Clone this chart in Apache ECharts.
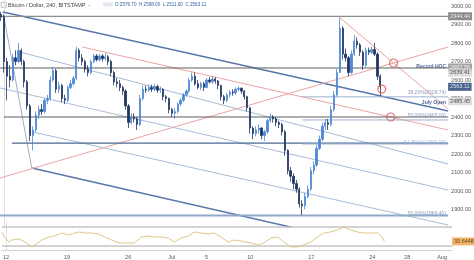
<!DOCTYPE html>
<html><head><meta charset="utf-8">
<script src="https://cdn.jsdelivr.net/npm/echarts@6/dist/echarts.min.js"></script>
<style>html,body{margin:0;padding:0;background:#fff}#c{width:474px;height:260px}</style>
</head><body><div id="c"></div>
<script>
// ---- data (days counted from 12 Jun) ----
const candleStartDay = -1/3, candleStepDay = 1/3; // 8h candles
const candleOpen = [2955,2940,2700,2620,2600,2720,2700,2760,2700,2590,2460,2300,2330,2410,2440,2430,2490,2500,2600,2650,2550,2570,2500,2490,2560,2580,2610,2760,2720,2700,2660,2640,2700,2730,2710,2730,2715,2725,2700,2640,2590,2580,2560,2540,2460,2370,2400,2390,2360,2500,2550,2545,2560,2550,2565,2545,2550,2510,2500,2440,2420,2430,2470,2490,2520,2540,2600,2620,2580,2560,2580,2560,2600,2590,2605,2595,2570,2510,2490,2520,2535,2530,2550,2555,2540,2510,2450,2340,2310,2330,2340,2300,2320,2380,2400,2390,2370,2360,2320,2220,2110,2080,2040,2010,1930,1920,1970,2010,2110,2140,2230,2280,2350,2370,2360,2440,2520,2640,2880,2740,2720,2640,2740,2810,2790,2750,2680,2760,2750,2765,2740,2620];
const candleClose = [2940,2700,2620,2600,2720,2700,2760,2700,2590,2460,2300,2330,2410,2440,2430,2490,2500,2600,2650,2550,2570,2500,2490,2560,2580,2610,2760,2720,2700,2660,2640,2700,2730,2710,2730,2715,2725,2700,2640,2590,2580,2560,2540,2460,2370,2400,2390,2360,2500,2550,2545,2560,2550,2565,2545,2550,2510,2500,2440,2420,2430,2470,2490,2520,2540,2600,2620,2580,2560,2580,2560,2600,2590,2605,2595,2570,2510,2490,2520,2535,2530,2550,2555,2540,2510,2450,2340,2310,2330,2340,2300,2320,2380,2400,2390,2370,2360,2320,2220,2110,2080,2040,2010,1930,1920,1970,2010,2110,2140,2230,2280,2350,2370,2360,2440,2520,2640,2880,2740,2720,2640,2740,2810,2790,2750,2680,2760,2750,2765,2740,2620,2563.11];
const candleLow = [2920,2640,2490,2560,2590,2680,2690,2680,2560,2440,2270,2220,2320,2390,2410,2420,2470,2490,2590,2530,2530,2480,2470,2480,2550,2570,2600,2700,2680,2640,2620,2630,2690,2700,2700,2700,2705,2680,2620,2570,2560,2540,2520,2440,2340,2360,2370,2330,2350,2490,2530,2535,2535,2540,2530,2530,2490,2480,2420,2400,2390,2420,2460,2480,2510,2530,2590,2570,2550,2545,2540,2555,2580,2580,2580,2550,2490,2470,2480,2505,2515,2520,2540,2525,2495,2430,2310,2280,2295,2310,2280,2270,2310,2370,2370,2350,2340,2300,2190,2090,2050,2010,1990,1910,1870,1900,1960,2000,2090,2130,2220,2270,2330,2330,2350,2430,2510,2640,2710,2700,2620,2630,2730,2770,2730,2655,2670,2735,2740,2730,2600,2511];
const candleHigh = [2968,2950,2720,2680,2740,2760,2800,2770,2710,2600,2470,2350,2430,2460,2470,2500,2520,2620,2670,2660,2590,2580,2520,2570,2600,2620,2780,2770,2740,2710,2680,2710,2740,2740,2740,2740,2745,2735,2710,2650,2610,2600,2570,2550,2470,2420,2420,2400,2520,2570,2570,2575,2575,2580,2575,2565,2555,2520,2505,2450,2450,2480,2500,2530,2550,2610,2640,2640,2600,2590,2590,2610,2615,2620,2615,2600,2575,2520,2530,2545,2550,2560,2565,2560,2545,2515,2455,2350,2350,2360,2345,2330,2390,2420,2410,2400,2380,2370,2330,2225,2130,2095,2060,2020,1950,1990,2030,2130,2160,2250,2300,2370,2390,2390,2460,2540,2660,2935,2890,2770,2730,2760,2843,2830,2800,2760,2775,2775,2780,2800,2750,2630];

const rsiDay = [-0.46,-0.11,0.34,0.68,1.48,2.17,2.97,3.31,4.11,4.91,5.59,6.39,7.19,7.88,8.45,9.02,9.82,10.62,11.30,12.10,12.67,13.24,14.04,14.73,15.53,16.32,17.01,17.81,18.61,19.29,20.09,20.89,21.58,22.37,23.17,23.86,24.66,25.46,26.14,26.94,28.08,28.88,29.57,30.37,31.16,31.85,32.65,33.45,34.13,34.93,35.73,36.42,37.21,38.01,38.70,39.50,40.30,40.98,41.78,42.58,43.15,43.38];
const rsiValue = [59.5,46.8,38.4,42.6,44.7,38.4,27.9,32.1,42.6,48.9,51.1,57.4,53.2,57.4,59.5,57.4,57.4,55.3,48.9,42.6,38.4,36.3,36.3,36.3,48.9,51.1,48.9,48.9,46.8,38.4,46.8,51.1,59.5,57.4,55.3,57.4,48.9,38.4,42.6,40.5,36.3,32.1,36.3,46.8,48.9,38.4,27.9,27.9,32.1,38.4,48.9,57.4,59.5,63.7,70.0,63.7,59.5,57.4,57.4,57.4,48.9,39.6448];
const rsiBands = [70, 30];

const tickDays = [0,7,14,19,23,28,35,42,46,50];
const tickLabels = ['12','19','26','Jul','5','10','17','24','28','Aug'];
const priceTicks = [1900,2000,2100,2200,2300,2400,2500,2600,2700,2800,2900,3000];

// trendlines: [startDay, startPrice, endDay, endPrice]
const channelLines = [[-0.11,2967.6,51.14,2432.4],[3.2,2124.3,51.14,1610.8]];
const handleLine = [-0.11,2967.6,3.2,2124.3];
const medianLines = [[1.83,2751.3,51.14,2146],[-0.46,2557,51.14,2005],[3.31,2318.9,51.14,1816]];
const pinkLines = [[9.02,2778.4,51.14,2329.7],[-0.46,2070.3,51.14,2778.4],[38.58,2940.5,51.14,2443.2]];
// horizontal levels: [fromDay, price]
const levelGray = [[-0.46,2944.44],[-0.46,2665],[0.0,2400]];
const levelBlue = [[0.91,2259]];
const levelLow = [[-0.46,1868]];
const fibShort = [[34.36,2509],[34.36,2384],[34.36,2254]];
const circleDay = [44.86,43.49,44.52];
const circlePrice = [2692,2551,2400];
const levelText = ['Record HOC','July Open','38.20%(2528.74)','50.00%(2405.00)','61.80%(2253.76)','50.00%(1869.40)'];
const levelTextPrice = [2672,2479,2534,2410,2262,1878];
const axisBoxValue = [2944.44,2667.56,2639.41,2563.11,2485.45];
const axisBoxBg = ['#6f6f6f','#8d8d8d','#d6d6d6','#1f3c73','#d6d6d6'];
const axisBoxFg = ['#fff','#fff','#333','#fff','#333'];
const rsiLast = 39.6448;

// ---- chart ----
const X0 = -0.457, X1 = 51.14;
const series = [];
function seg(a, color, width, xi){
  series.push({type:'line', xAxisIndex:xi||0, yAxisIndex:xi||0, data:[[a[0],a[1]],[a[2],a[3]]], symbol:'none', silent:true,
    clip:true, lineStyle:{color:color, width:width}, z:2, animation:false});
}
channelLines.forEach(l=>seg(l,'#5877ab',1.5));
seg(handleLine,'#8b98b0',0.8);
medianLines.forEach(l=>seg(l,'#a7bad6',1));
pinkLines.forEach(l=>seg(l,'#eba3a3',1));
levelGray.forEach((l,i)=>seg([l[0],l[1],X1,l[1]], i===0?'#8c8c8c':'#5f5f5f', i===0?1.2:1));
levelBlue.forEach(l=>seg([l[0],l[1],X1,l[1]],'#4a6894',1.3));
levelLow.forEach(l=>seg([l[0],l[1],X1,l[1]],'#8fa7c8',2));
fibShort.forEach(l=>seg([l[0],l[1],X1,l[1]],'#9fb1cf',1));

series.push({type:'candlestick', data:candleOpen.map((o,i)=>[candleStartDay+i*candleStepDay,o,candleClose[i],candleLow[i],candleHigh[i]]),
  barWidth:1.8, z:5, animation:false,
  itemStyle:{color:'#4d88d6', color0:'#22365f', borderColor:'#4d88d6', borderColor0:'#22365f', borderWidth:0.8}});

series.push({type:'scatter', data:circleDay.map((d,i)=>[d,circlePrice[i]]), symbol:'circle', symbolSize:8, z:6, silent:true,
  itemStyle:{color:'rgba(255,255,255,0)', borderColor:'#d9534f', borderWidth:1.2}, animation:false});

series.push({type:'scatter', data:levelTextPrice.map((p,i)=>({value:[50.9,p], name:levelText[i]})), symbolSize:0, z:7, silent:true, animation:false,
  label:{show:true, position:'left', distance:0, fontSize:5, fontFamily:'Liberation Sans, Arial',
    formatter:p=>p.name, color:'#6f84a8',
    rich:{}},
  labelLayout:null});
// colour specific labels
series[series.length-1].data.forEach((d,i)=>{
  if(i<2) d.label={color:'#1f3d7a', fontWeight:'bold'};
  if(i===4) d.label={color:'#8fb1da', fontSize:5.5};
});

series.push({type:'scatter', data:axisBoxValue.map((v,i)=>({value:[X1,v], label:{backgroundColor:axisBoxBg[i], color:axisBoxFg[i]}})), symbolSize:0, z:8, silent:true, animation:false,
  label:{show:true, position:'right', distance:0, fontSize:5.5, fontFamily:'Liberation Sans, Arial', padding:[1,2,1,2], formatter:p=>p.value[1].toFixed(2)}});

// RSI panel
seg([X0,rsiBands[0],X1,rsiBands[0]],'#a8a8a8',1,1);
seg([X0,rsiBands[1],X1,rsiBands[1]],'#a8a8a8',1,1);
series.push({type:'line', xAxisIndex:1, yAxisIndex:1, data:rsiDay.map((d,i)=>[d,rsiValue[i]]), symbol:'none', silent:true, animation:false,
  lineStyle:{color:'#dcbf7c', width:0.9}});
series.push({type:'scatter', xAxisIndex:1, yAxisIndex:1, data:[[X1,rsiLast]], symbolSize:0, silent:true, animation:false,
  label:{show:true, position:'right', distance:0, fontSize:5.5, fontFamily:'Liberation Sans, Arial', padding:[1,2,1,2], backgroundColor:'#f0a346', color:'#3a2a10', formatter:p=>p.value[1].toFixed(4)}});

const chart = echarts.init(document.getElementById('c'), null, {renderer:'canvas'});
chart.setOption({
  animation:false,
  backgroundColor:'#ffffff',
  grid:[{left:0, right:22, top:0, height:226},{left:0, right:22, top:222, height:28}],
  xAxis:[
    {type:'value', min:X0, max:X1, gridIndex:0, axisLine:{show:false}, axisTick:{show:false}, axisLabel:{show:false}, splitLine:{show:false}},
    {type:'value', min:X0, max:X1, gridIndex:1, axisLine:{show:true, lineStyle:{color:'#d0d0d0'}}, axisTick:{show:false}, splitLine:{show:false},
      axisLabel:{customValues:tickDays, fontSize:5.5, color:'#555', margin:4, fontFamily:'Liberation Sans, Arial',
        formatter:v=>{const k=tickDays.findIndex(t=>Math.abs(t-v)<1e-6);return k>=0?tickLabels[k]:'';}}}
  ],
  yAxis:[
    {type:'value', gridIndex:0, position:'right', min:1810.81, max:3032.43, splitLine:{show:false}, axisTick:{show:false},
      axisLine:{show:true, lineStyle:{color:'#e0e0e0'}},
      axisLabel:{customValues:priceTicks, fontSize:5.5, color:'#555', margin:3, fontFamily:'Liberation Sans, Arial', formatter:v=>v.toFixed(2)}},
    {type:'value', gridIndex:1, position:'right', min:21.58, max:80.53, splitLine:{show:false}, axisTick:{show:false},
      axisLine:{show:true, lineStyle:{color:'#e0e0e0'}}, axisLabel:{show:false}}
  ],
  graphic:[
    {type:'rect', left:1, top:2, shape:{width:5,height:5}, style:{fill:'#fff', stroke:'#999', lineWidth:0.6}},
    {type:'text', left:8, top:2, style:{text:'Bitcoin / Dollar, 240, BITSTAMP  -', fontSize:5.5, fill:'#444', fontFamily:'Liberation Sans, Arial'}},
    {type:'rect', left:103, top:2.5, shape:{width:10,height:4}, style:{fill:'#e4e8ef'}},
    {type:'text', left:115, top:2.5, style:{text:'O 2576.70  H 2598.00  L 2511.00  C 2563.11', fontSize:4.6, fill:'#2f5ea6', fontFamily:'Liberation Sans, Arial'}}
  ],
  series:series
});
</script></body></html>
